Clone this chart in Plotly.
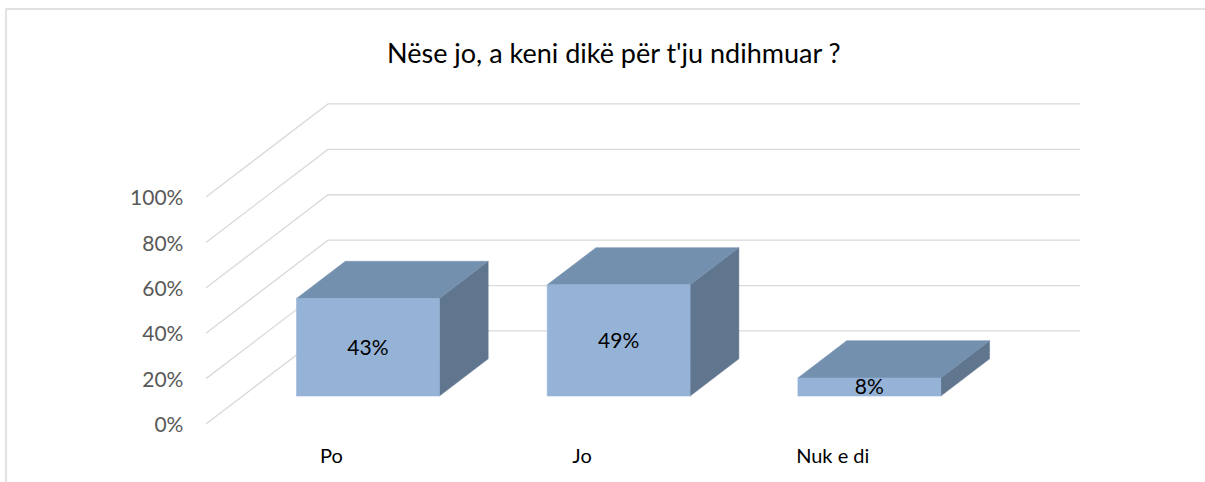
import plotly.graph_objects as go

# ---- data ----
categories = ["Po", "Jo", "Nuk e di"]
values = [43, 49, 8]
value_labels = ["43%", "49%", "8%"]
tick_values = [0, 20, 40, 60, 80, 100]
tick_labels = ["0%", "20%", "40%", "60%", "80%", "100%"]
title_text = "Nëse jo, a keni dikë për t'ju ndihmuar ?"

# ---- oblique 3D projection parameters (axis units) ----
DX = 0.4866      # depth shift in category units
DY = 41.0        # depth shift in value units
BAR_HALF = 0.285
D0, D1 = 0.30, 0.70
X_LEFT, X_RIGHT = -0.5, len(categories) - 0.5
TEXT_DROP = 1.3  # small downward nudge for text (value units)

FRONT = "#95B3D7"
TOP = "#7490AF"
SIDE = "#60768F"
GRID = "#D9D9D9"
FONT = "Lato"

def proj(x, y, d):
    return x + d * DX, y + d * DY

fig = go.Figure()

# back wall gridlines + left wall diagonals
for v in tick_values:
    xa, ya = proj(X_LEFT, v, 0)
    xb, yb = proj(X_LEFT, v, 1)
    xc, yc = proj(X_RIGHT, v, 1)
    fig.add_trace(go.Scatter(x=[xa, xb, xc], y=[ya, yb, yc], mode="lines",
                             line=dict(color=GRID, width=1.3),
                             hoverinfo="skip", showlegend=False))

# bars
for i, (cat, val, lab) in enumerate(zip(categories, values, value_labels)):
    xl, xr = i - BAR_HALF, i + BAR_HALF
    # side face
    pts = [proj(xr, 0, D0), proj(xr, 0, D1), proj(xr, val, D1), proj(xr, val, D0)]
    fig.add_trace(go.Scatter(x=[p[0] for p in pts] + [pts[0][0]], y=[p[1] for p in pts] + [pts[0][1]],
                             fill="toself", fillcolor=SIDE, mode="lines",
                             line=dict(color=SIDE, width=0.5), hoverinfo="skip", showlegend=False))
    # top face
    pts = [proj(xl, val, D0), proj(xr, val, D0), proj(xr, val, D1), proj(xl, val, D1)]
    fig.add_trace(go.Scatter(x=[p[0] for p in pts] + [pts[0][0]], y=[p[1] for p in pts] + [pts[0][1]],
                             fill="toself", fillcolor=TOP, mode="lines",
                             line=dict(color=TOP, width=0.5), hoverinfo="skip", showlegend=False))
    # front face
    pts = [proj(xl, 0, D0), proj(xr, 0, D0), proj(xr, val, D0), proj(xl, val, D0)]
    fig.add_trace(go.Scatter(x=[p[0] for p in pts] + [pts[0][0]], y=[p[1] for p in pts] + [pts[0][1]],
                             fill="toself", fillcolor=FRONT, mode="lines",
                             line=dict(color=FRONT, width=0.5), hoverinfo="skip", showlegend=False))
    # value label in the centre of the front face
    cx, cy = proj(i, val / 2, D0)
    fig.add_trace(go.Scatter(x=[cx], y=[cy - 0.9], mode="text", text=[lab],
                             textfont=dict(family=FONT, size=21, color="#000000"),
                             hoverinfo="skip", showlegend=False))

# y tick labels at the front-left edge
fig.add_trace(go.Scatter(x=[X_LEFT - 0.09] * len(tick_values), y=[v - TEXT_DROP for v in tick_values],
                         mode="text", text=tick_labels, textposition="middle left",
                         textfont=dict(family=FONT, size=21, color="#595959"),
                         hoverinfo="skip", showlegend=False))

# category labels
fig.add_trace(go.Scatter(x=list(range(len(categories))), y=[-14.8] * len(categories), mode="text",
                         text=categories, textfont=dict(family=FONT, size=20, color="#000000"),
                         hoverinfo="skip", showlegend=False))

fig.update_layout(
    width=1205, height=482, autosize=False,
    margin=dict(l=0, r=0, t=0, b=0),
    paper_bgcolor="white", plot_bgcolor="white",
    xaxis=dict(range=[-1.3217, 3.4849], visible=False, fixedrange=True),
    yaxis=dict(range=[-25.55, 186.8], visible=False, fixedrange=True),
    annotations=[dict(text=title_text, x=614 / 1205, y=1 - 52 / 482, xref="paper", yref="paper",
                      xanchor="center", yanchor="middle", showarrow=False,
                      font=dict(family=FONT, size=27, color="#000000"))],
    shapes=[dict(type="rect", xref="paper", yref="paper", x0=6 / 1205, x1=1.05, y0=-0.05, y1=1 - 9 / 482,
                 line=dict(color="#D9D9D9", width=1.5), fillcolor="rgba(0,0,0,0)")],
)

fig.write_html("out.html", config={"displayModeBar": False},
               post_script="document.body.style.margin='0';document.body.style.overflow='hidden';")
